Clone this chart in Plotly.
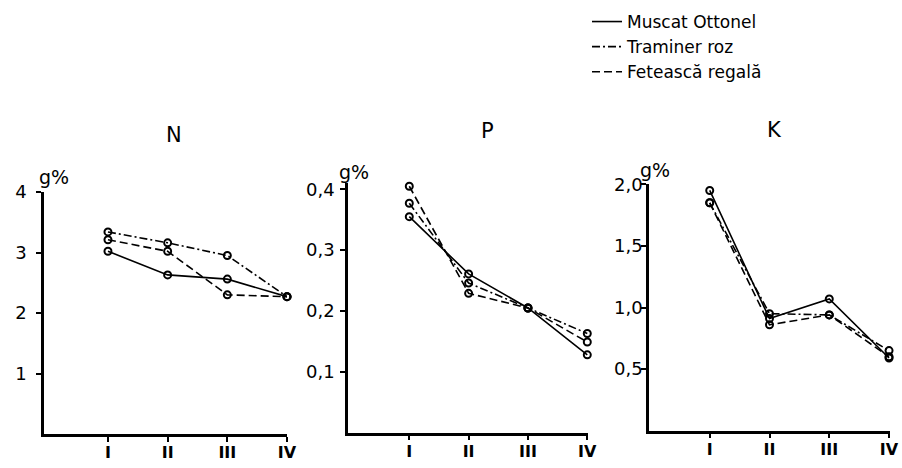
import plotly.graph_objects as go

# ---- data ----
stages = ["I", "II", "III", "IV"]
stage_pos = [1, 2, 3, 4]
varieties = ["Muscat Ottonel", "Traminer roz", "Fetească regală"]

n_muscat = [3.02, 2.63, 2.56, 2.27]
n_traminer = [3.34, 3.16, 2.95, 2.27]
n_feteasca = [3.21, 3.02, 2.30, 2.27]

p_muscat = [0.355, 0.261, 0.205, 0.128]
p_traminer = [0.377, 0.246, 0.205, 0.163]
p_feteasca = [0.405, 0.229, 0.205, 0.149]

k_muscat = [1.95, 0.91, 1.07, 0.59]
k_traminer = [1.85, 0.95, 0.94, 0.65]
k_feteasca = [1.85, 0.86, 0.94, 0.60]

n_ticks = [1, 2, 3, 4]
n_ticklabels = ["1", "2", "3", "4"]
p_ticks = [0.1, 0.2, 0.3, 0.4]
p_ticklabels = ["0,1", "0,2", "0,3", "0,4"]
k_ticks = [0.5, 1.0, 1.5, 2.0]
k_ticklabels = ["0,5", "1,0", "1,5", "2,0"]

panel_titles = ["N", "P", "K"]
unit_label = "g%"

# ---- styles ----
W, H = 902, 468
FONT = "DejaVu Sans"
dashes = ["solid", "8px,3px,2px,3px", "8px,4px"]


def px_x(p):
    return p / W


def px_y(p):
    return 1 - p / H


fig = go.Figure()

panels = [
    ("x", "y", [n_muscat, n_traminer, n_feteasca]),
    ("x2", "y2", [p_muscat, p_traminer, p_feteasca]),
    ("x3", "y3", [k_muscat, k_traminer, k_feteasca]),
]

for xa, ya, series in panels:
    for name, vals, dash in zip(varieties, series, dashes):
        fig.add_trace(go.Scatter(
            x=stage_pos, y=vals, xaxis=xa, yaxis=ya,
            mode="lines+markers", name=name, showlegend=False,
            line=dict(color="black", width=1.6, dash=dash),
            marker=dict(symbol="circle-open", size=7, color="black",
                        line=dict(width=2, color="black")),
            cliponaxis=False,
        ))

# legend-only entries (line samples only, as in the reference)
for name, dash in zip(varieties, dashes):
    fig.add_trace(go.Scatter(
        x=[None], y=[None], mode="lines", name=name, showlegend=True,
        line=dict(color="black", width=1.6, dash=dash),
    ))

axis_common = dict(
    showline=True, linecolor="black", linewidth=2.5,
    showgrid=False, zeroline=False, ticks="outside",
    tickcolor="black", ticklen=5, tickwidth=1.5, automargin=False,
)

xfont = dict(family=FONT, size=16, color="black", weight="bold")
yfont = dict(family=FONT, size=18, color="black")

# pixel geometry of each panel: x-left, x-right, y of zero, px per unit, xrange, ymax
geo = [
    (44, 287, 434.0, 60.5, [-0.072, 4.0], 4.0, n_ticks, n_ticklabels, 6),
    (348, 588, 432.7, 608.5, [-0.033, 4.012], 0.41, p_ticks, p_ticklabels, 2),
    (649, 890, 430.7, 123.2, [-0.016, 4.016], 2.0, k_ticks, k_ticklabels, -5),
]

for i, (xl, xr, y0, ppu, xr_, ymax, tv, tt, stand) in enumerate(geo):
    sfx = "" if i == 0 else str(i + 1)
    ytop = y0 - ymax * ppu
    fig.layout["xaxis" + sfx] = dict(
        axis_common, domain=[px_x(xl), px_x(xr)], range=xr_,
        anchor="y" + sfx, tickvals=stage_pos, ticktext=stages,
        tickfont=xfont, ticklabelstandoff=-3, fixedrange=True,
    )
    fig.layout["yaxis" + sfx] = dict(
        axis_common, domain=[px_y(y0), px_y(ytop)], range=[0, ymax],
        anchor="x" + sfx, tickvals=tv, ticktext=tt, tickfont=yfont,
        ticklabelstandoff=stand, fixedrange=True,
    )

title_pos = [(174, 135), (487, 131), (774, 130)]
unit_pos = [(54, 177), (354, 172), (655, 170)]
for t, (tx, ty) in zip(panel_titles, title_pos):
    fig.add_annotation(text=t, x=px_x(tx), y=px_y(ty), xref="paper", yref="paper",
                       showarrow=False, xanchor="center", yanchor="middle",
                       font=dict(family=FONT, size=21, color="black"))
for (ux, uy) in unit_pos:
    fig.add_annotation(text=unit_label, x=px_x(ux), y=px_y(uy), xref="paper", yref="paper",
                       showarrow=False, xanchor="center", yanchor="middle",
                       font=dict(family=FONT, size=19, color="black"))

fig.update_layout(
    width=W, height=H,
    margin=dict(l=0, r=0, t=0, b=0, autoexpand=False),
    paper_bgcolor="white", plot_bgcolor="white",
    showlegend=True,
    legend=dict(x=px_x(587), y=px_y(4), xanchor="left", yanchor="top",
                bgcolor="rgba(0,0,0,0)", font=dict(family=FONT, size=17, color="black"),
                itemwidth=30, tracegroupgap=0),
)

fig.write_html("out.html", config={"displayModeBar": False},
               post_script="document.body.style.margin='0';document.body.style.overflow='hidden';")
